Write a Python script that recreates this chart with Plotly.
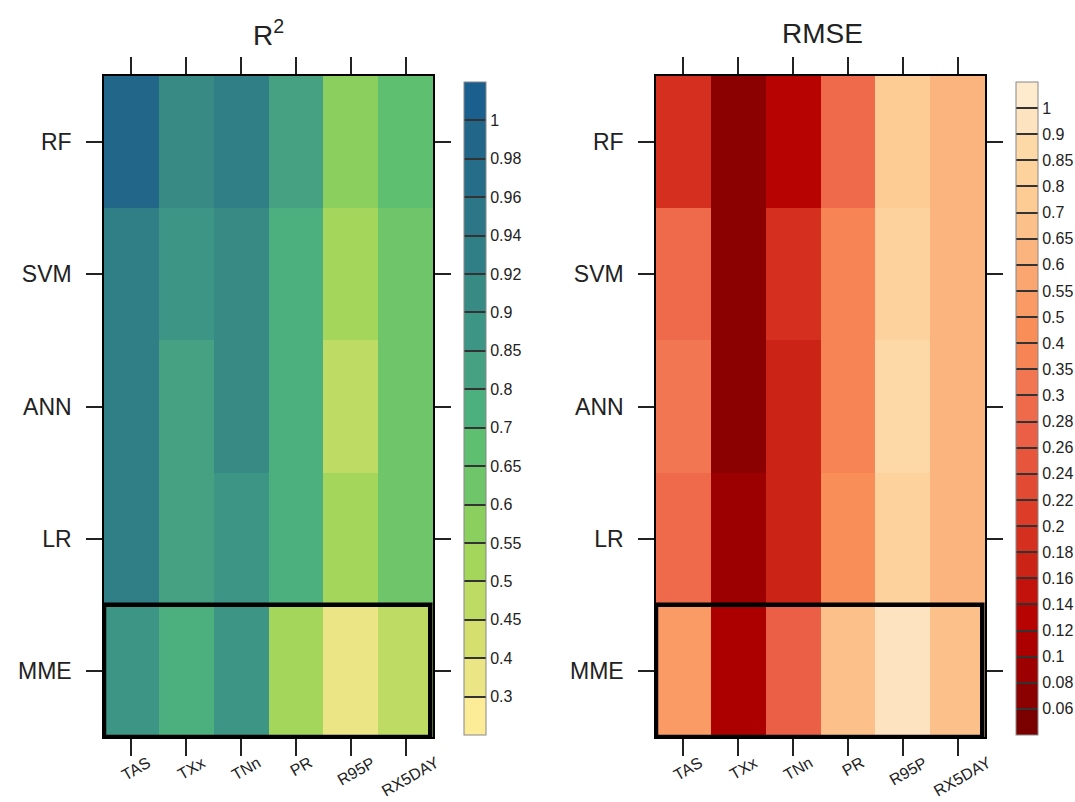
import numpy as np
import plotly.graph_objects as go

models = ["RF", "SVM", "ANN", "LR", "MME"]
indices = ["TAS", "TXx", "TNn", "PR", "R95P", "RX5DAY"]

# R2 values (rows = models)
r2_rf = [0.985, 0.91, 0.935, 0.83, 0.58, 0.68]
r2_svm = [0.93, 0.87, 0.91, 0.75, 0.52, 0.62]
r2_ann = [0.93, 0.82, 0.91, 0.75, 0.47, 0.62]
r2_lr = [0.93, 0.82, 0.88, 0.75, 0.52, 0.62]
r2_mme = [0.88, 0.75, 0.86, 0.53, 0.35, 0.48]

# RMSE values
rmse_rf = [0.19, 0.07, 0.13, 0.29, 0.78, 0.62]
rmse_svm = [0.29, 0.07, 0.19, 0.38, 0.82, 0.62]
rmse_ann = [0.32, 0.07, 0.17, 0.38, 0.87, 0.62]
rmse_lr = [0.29, 0.09, 0.17, 0.42, 0.83, 0.62]
rmse_mme = [0.52, 0.11, 0.27, 0.68, 0.95, 0.68]

r2_breaks = [0.3, 0.4, 0.45, 0.5, 0.55, 0.6, 0.65, 0.7, 0.8, 0.85, 0.9, 0.92, 0.94, 0.96, 0.98, 1]
r2_labels = ["0.3", "0.4", "0.45", "0.5", "0.55", "0.6", "0.65", "0.7", "0.8", "0.85", "0.9",
             "0.92", "0.94", "0.96", "0.98", "1"]
rmse_breaks = [0.06, 0.08, 0.1, 0.12, 0.14, 0.16, 0.18, 0.2, 0.22, 0.24, 0.26, 0.28, 0.3,
               0.35, 0.4, 0.5, 0.55, 0.6, 0.65, 0.7, 0.8, 0.85, 0.9, 1]
rmse_labels = ["0.06", "0.08", "0.1", "0.12", "0.14", "0.16", "0.18", "0.2", "0.22", "0.24",
               "0.26", "0.28", "0.3", "0.35", "0.4", "0.5", "0.55", "0.6", "0.65", "0.7",
               "0.8", "0.85", "0.9", "1"]

r2_colors = ["#FDEC97", "#EBE585", "#D5DF6E", "#BEDC63", "#A3D65A", "#8BD05F", "#6FC66A",
             "#5FBF70", "#4CAF7E", "#45A181", "#3D9585", "#388B85", "#317F86", "#2C7687",
             "#266D89", "#22678A", "#1A5F8E"]
rmse_colors = ["#7A0000", "#8B0000", "#9D0000", "#AC0000", "#B80303", "#C2120B", "#CB2416",
               "#D5301F", "#DD3C28", "#E34A33", "#E7553D", "#EA5F45", "#EF6A4B", "#F27651",
               "#F68455", "#F98E59", "#FA9A64", "#FBA670", "#FBB47E", "#FCC08B", "#FDCB94",
               "#FDD29C", "#FDD9A7", "#FDE3BF", "#FEEACC"]

W, H = 1075, 802
FONT = "Liberation Sans, Arial, sans-serif"
TXT = "#222222"


def discrete_scale(colors):
    n = len(colors)
    cs = []
    for k, c in enumerate(colors):
        cs.append([k / n, c])
        cs.append([(k + 1) / n, c])
    return cs


def px_x(p):
    return p / W


def px_y(p):
    return 1 - p / H


r2 = np.array([r2_rf, r2_svm, r2_ann, r2_lr, r2_mme])
rmse = np.array([rmse_rf, rmse_svm, rmse_ann, rmse_lr, rmse_mme])
r2_bin = np.digitize(r2, r2_breaks)
rmse_bin = np.digitize(rmse, rmse_breaks)

fig = go.Figure()


def colorbar(x_px, breaks, labels):
    return dict(
        x=px_x(x_px), xanchor="left", xpad=0, ypad=0,
        y=px_y((82 + 735) / 2), yanchor="middle",
        len=(735 - 82) / H, lenmode="fraction",
        thickness=22, thicknessmode="pixels",
        outlinecolor="#888888", outlinewidth=1,
        tickmode="array",
        tickvals=[k + 0.5 for k in range(len(breaks))],
        ticktext=labels,
        ticks="inside", ticklen=22, tickwidth=1.5, tickcolor="#333333",
        tickfont=dict(family=FONT, size=16, color=TXT),
    )


fig.add_trace(go.Heatmap(
    z=r2_bin, x=indices, y=models, customdata=r2,
    zmin=-0.5, zmax=len(r2_colors) - 0.5,
    colorscale=discrete_scale(r2_colors),
    colorbar=colorbar(464, r2_breaks, r2_labels),
    hovertemplate="%{y} %{x}: %{customdata}<extra>R²</extra>",
    xaxis="x", yaxis="y",
))
fig.add_trace(go.Heatmap(
    z=rmse_bin, x=indices, y=models, customdata=rmse,
    zmin=-0.5, zmax=len(rmse_colors) - 0.5,
    colorscale=discrete_scale(rmse_colors),
    colorbar=colorbar(1016, rmse_breaks, rmse_labels),
    hovertemplate="%{y} %{x}: %{customdata}<extra>RMSE</extra>",
    xaxis="x2", yaxis="y2",
))

xax = dict(
    showline=True, linecolor="black", linewidth=1.5, mirror="allticks",
    ticks="outside", ticklen=17, tickwidth=1.8, tickcolor=TXT,
    showticklabels=False, range=[-0.5, len(indices) - 0.5], autorange=False,
    showgrid=False, zeroline=False, fixedrange=True,
    categoryorder="array", categoryarray=indices,
)
yax = dict(
    showline=True, linecolor="black", linewidth=1.5, mirror="allticks",
    ticks="outside", ticklen=16, tickwidth=1.8, tickcolor=TXT,
    tickfont=dict(family=FONT, size=23, color=TXT),
    ticklabelstandoff=10,
    showgrid=False, zeroline=False, fixedrange=True,
    categoryorder="array", categoryarray=models,
    range=[len(models) - 0.5, -0.5], autorange=False,
)

annotations = [
    dict(text="R<sup>2</sup>", x=px_x(268), y=px_y(33), xref="paper", yref="paper",
         xanchor="center", yanchor="middle",
         showarrow=False, font=dict(family=FONT, size=28, color=TXT)),
    dict(text="RMSE", x=px_x(822), y=px_y(33), xref="paper", yref="paper",
         xanchor="center", yanchor="middle",
         showarrow=False, font=dict(family=FONT, size=28, color=TXT)),
]
# rotated category labels under each panel (centred on the ticks)
for xr in ["x", "x2"]:
    for lab in indices:
        annotations.append(dict(
            text=lab, x=lab, xref=xr, y=px_y(751), yref="paper",
            xanchor="center", yanchor="top", xshift=5, textangle=-30,
            showarrow=False, font=dict(family=FONT, size=16, color=TXT),
        ))

fig.update_layout(
    width=W, height=H,
    margin=dict(l=0, r=0, t=0, b=0, autoexpand=False),
    paper_bgcolor="white", plot_bgcolor="white",
    font=dict(family=FONT, color=TXT),
    xaxis=dict(xax, domain=[px_x(104), px_x(433)], anchor="y"),
    yaxis=dict(yax, domain=[px_y(737), px_y(76)], anchor="x"),
    xaxis2=dict(xax, domain=[px_x(656), px_x(985)], anchor="y2"),
    yaxis2=dict(yax, domain=[px_y(737), px_y(76)], anchor="x2"),
    annotations=annotations,
    shapes=[
        dict(type="rect", xref="x", yref="y", x0=-0.5, x1=5.45, y0=3.5, y1=4.5,
             line=dict(color="black", width=4.5)),
        dict(type="rect", xref="x2", yref="y2", x0=-0.5, x1=5.45, y0=3.5, y1=4.5,
             line=dict(color="black", width=4.5)),
    ],
)

fig.write_html("out.html")
